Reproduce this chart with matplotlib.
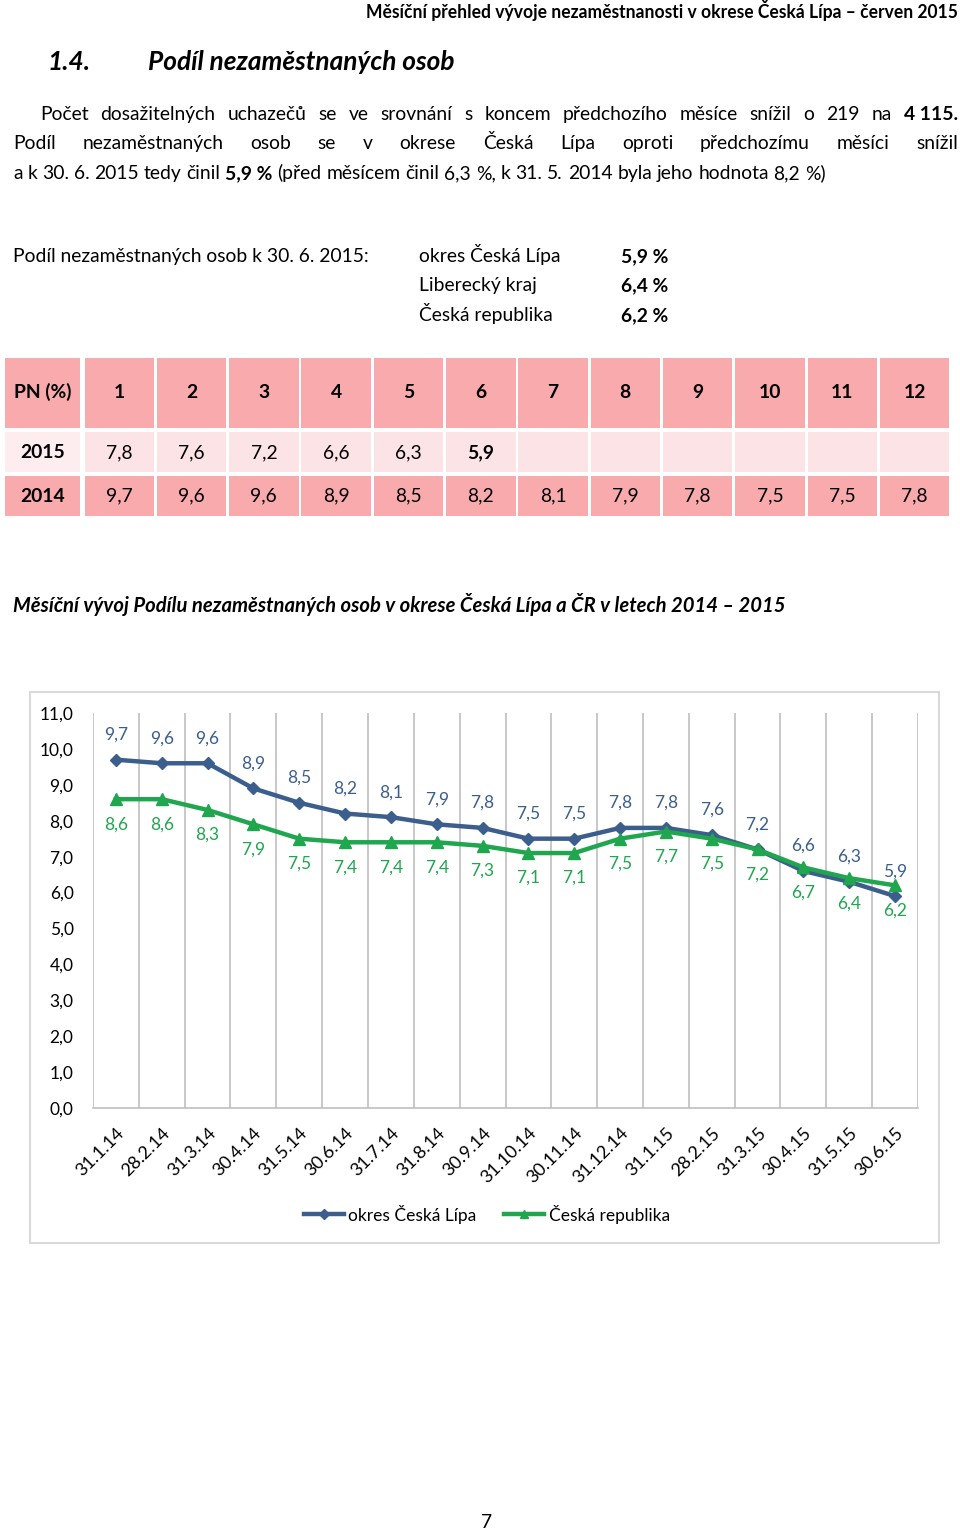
import numpy as np
import matplotlib
matplotlib.use("Agg")
import matplotlib.pyplot as plt
from matplotlib.patches import Rectangle

plt.rcParams['font.family'] = ['Lato', 'DejaVu Sans']

W, H = 960, 1531

# data
dates = ["31.1.14", "28.2.14", "31.3.14", "30.4.14", "31.5.14", "30.6.14",
         "31.7.14", "31.8.14", "30.9.14", "31.10.14", "30.11.14", "31.12.14",
         "31.1.15", "28.2.15", "31.3.15", "30.4.15", "31.5.15", "30.6.15"]
okres_cl = [9.7, 9.6, 9.6, 8.9, 8.5, 8.2, 8.1, 7.9, 7.8, 7.5, 7.5, 7.8,
            7.8, 7.6, 7.2, 6.6, 6.3, 5.9]
ceska_rep = [8.6, 8.6, 8.3, 7.9, 7.5, 7.4, 7.4, 7.4, 7.3, 7.1, 7.1, 7.5,
             7.7, 7.5, 7.2, 6.7, 6.4, 6.2]
series_names = ["okres Česká Lípa", "Česká republika"]

months = [str(m) for m in range(1, 13)]
pn_2015 = [7.8, 7.6, 7.2, 6.6, 6.3, 5.9]
pn_2014 = [9.7, 9.6, 9.6, 8.9, 8.5, 8.2, 8.1, 7.9, 7.8, 7.5, 7.5, 7.8]

summary_names = ["okres Česká Lípa", "Liberecký kraj", "Česká republika"]
summary_values = [5.9, 6.4, 6.2]
y_ticks = [0, 1, 2, 3, 4, 5, 6, 7, 8, 9, 10, 11]

BLUE = "#3B5E8D"
GREEN = "#1FA64E"
PINK = "#F9AAAD"
PINK_LIGHT = "#FCE3E5"
PINK_LIGHTER = "#FDEDEE"


def fmt(v):
    return ("%.1f" % v).replace(".", ",")


fig = plt.figure(figsize=(W / 100, H / 100), dpi=100)
page = fig.add_axes([0, 0, 1, 1])
page.set_xlim(0, W)
page.set_ylim(H, 0)
page.axis("off")
renderer = fig.canvas.get_renderer()


def width(t):
    return t.get_window_extent(renderer).width


def fit(x, y, s, target_w, **kw):
    # set font size so that the text spans target_w pixels
    t = page.text(x, y, s, fontsize=10, **kw)
    t.set_fontsize(10 * target_w / width(t))
    return t


def words_line(y, x0, parts, size, x1=None):
    # parts: list of (text, weight); with x1 the line is justified
    items = []
    for txt, weight in parts:
        for w in txt.split(" "):
            t = page.text(0, y, w.replace("~", " "), fontsize=size,
                          fontweight=weight, va="baseline")
            items.append(t)
    ws = [width(t) for t in items]
    probe = page.text(0, 0, "a a", fontsize=size)
    probe2 = page.text(0, 0, "aa", fontsize=size)
    space = width(probe) - width(probe2)
    probe.remove()
    probe2.remove()
    gap = space if x1 is None else (x1 - x0 - sum(ws)) / (len(ws) - 1)
    x = x0
    for t, w in zip(items, ws):
        t.set_x(x)
        x += w + gap


# page header
fit(958, 18, "Měsíční přehled vývoje nezaměstnanosti v okrese Česká Lípa – červen 2015",
    593, ha="right", va="baseline", fontweight="bold")
h = fit(148, 70, "Podíl nezaměstnaných osob", 306, va="baseline",
        fontweight="bold", fontstyle="italic")
page.text(48, 70, "1.4.", fontsize=h.get_fontsize(), va="baseline",
          fontweight="bold", fontstyle="italic")

# body text
line3 = "a k 30. 6. 2015 tedy činil 5,9 % (před měsícem činil 6,3 %, k 31. 5. 2014 byla jeho hodnota 8,2 %)"
tmp = fit(0, 0, line3, 815)
body = tmp.get_fontsize()
tmp.remove()

words_line(120, 40, [("Počet dosažitelných uchazečů se ve srovnání s koncem předchozího měsíce snížil o 219 na", "normal"),
                     ("4~115.", "bold")], body, x1=958)
words_line(149, 13, [("Podíl nezaměstnaných osob se v okrese Česká Lípa oproti předchozímu měsíci snížil", "normal")],
           body, x1=958)
words_line(179, 13, [("a k 30. 6. 2015 tedy činil", "normal"), ("5,9~%", "bold"),
                     ("(před měsícem činil 6,3 %, k 31. 5. 2014 byla jeho hodnota 8,2 %)", "normal")], body)

page.text(13, 262, "Podíl nezaměstnaných osob k 30. 6. 2015:", fontsize=body, va="baseline")
for i, (name, val) in enumerate(zip(summary_names, summary_values)):
    yb = 262 + i * 29.5
    page.text(419, yb, name, fontsize=body, va="baseline")
    page.text(621, yb, fmt(val) + " %", fontsize=body, va="baseline", fontweight="bold")

# table
col_x = [5] + [84.5 + i * 72.3 for i in range(12)]
col_w = [75] + [69.5] * 12
rows = [(358, 70, 392), (432, 40, 453), (476, 40, 496)]
header = ["PN (%)"] + months
r2015 = ["2015"] + [fmt(v) for v in pn_2015] + [""] * (12 - len(pn_2015))
r2014 = ["2014"] + [fmt(v) for v in pn_2014]
for r, (cells, (top, hgt, yc)) in enumerate(zip([header, r2015, r2014], rows)):
    for c, txt in enumerate(cells):
        if r == 1:
            fc = PINK_LIGHTER if c == 0 else PINK_LIGHT
        else:
            fc = PINK
        page.add_patch(Rectangle((col_x[c], top), col_w[c], hgt, facecolor=fc,
                                 edgecolor="none"))
        bold = r == 0 or c == 0 or (r == 1 and c == len(pn_2015))
        page.text(col_x[c] + col_w[c] / 2, yc, txt, fontsize=body, ha="center",
                  va="center", fontweight="bold" if bold else "normal")

# chart title
fit(13, 612, "Měsíční vývoj Podílu nezaměstnaných osob v okrese Česká Lípa a ČR v letech 2014 – 2015",
    773, va="baseline", fontweight="bold", fontstyle="italic")

# chart frame
page.add_patch(Rectangle((30, 692), 909, 551, facecolor="white",
                         edgecolor="#D9D9D9", linewidth=1.5))

ax = fig.add_axes([93 / W, 1 - 1108 / H, 825 / W, 395 / H])
ax.set_facecolor("none")
x = np.arange(len(dates))
ax.plot(x, okres_cl, color=BLUE, lw=3.2, marker="D", ms=6.5, label=series_names[0], zorder=3)
ax.plot(x, ceska_rep, color=GREEN, lw=3.2, marker="^", ms=8, label=series_names[1], zorder=3)
for i in x:
    ax.annotate(fmt(okres_cl[i]), (i, okres_cl[i]), xytext=(0, 25),
                textcoords="offset pixels", ha="center", va="center",
                fontsize=12.5, color=BLUE)
    ax.annotate(fmt(ceska_rep[i]), (i, ceska_rep[i]), xytext=(0, -25),
                textcoords="offset pixels", ha="center", va="center",
                fontsize=12.5, color=GREEN)

ax.set_xlim(-0.5, len(dates) - 0.5)
ax.set_ylim(0, 11)
ax.set_yticks(y_ticks)
ax.set_yticklabels([fmt(v) for v in y_ticks], fontsize=12.5)
ax.set_xticks(x)
ax.set_xticklabels(dates, rotation=45, ha="right", va="top",
                   rotation_mode="anchor", fontsize=13)
ax.set_xticks(np.arange(-0.5, len(dates)), minor=True)
ax.grid(which="minor", axis="x", color="#BFBFBF", lw=1.2)
ax.tick_params(which="both", length=0)
ax.tick_params(axis="y", pad=14)
ax.tick_params(axis="x", pad=12)
for s in ["top", "right", "left"]:
    ax.spines[s].set_visible(False)
ax.spines["bottom"].set_color("#BFBFBF")
ax.spines["bottom"].set_linewidth(1.2)

ax.legend(loc="center", bbox_to_anchor=(487 / W, 1 - 1214 / H),
          bbox_transform=fig.transFigure, ncol=2, frameon=False,
          fontsize=12.5, handlelength=2.3, handletextpad=0.25,
          columnspacing=1.6, markerscale=0.8)

# page number
page.text(487, 1528, "7", fontsize=body, ha="center", va="baseline")

fig.savefig("out.png", dpi=100)
